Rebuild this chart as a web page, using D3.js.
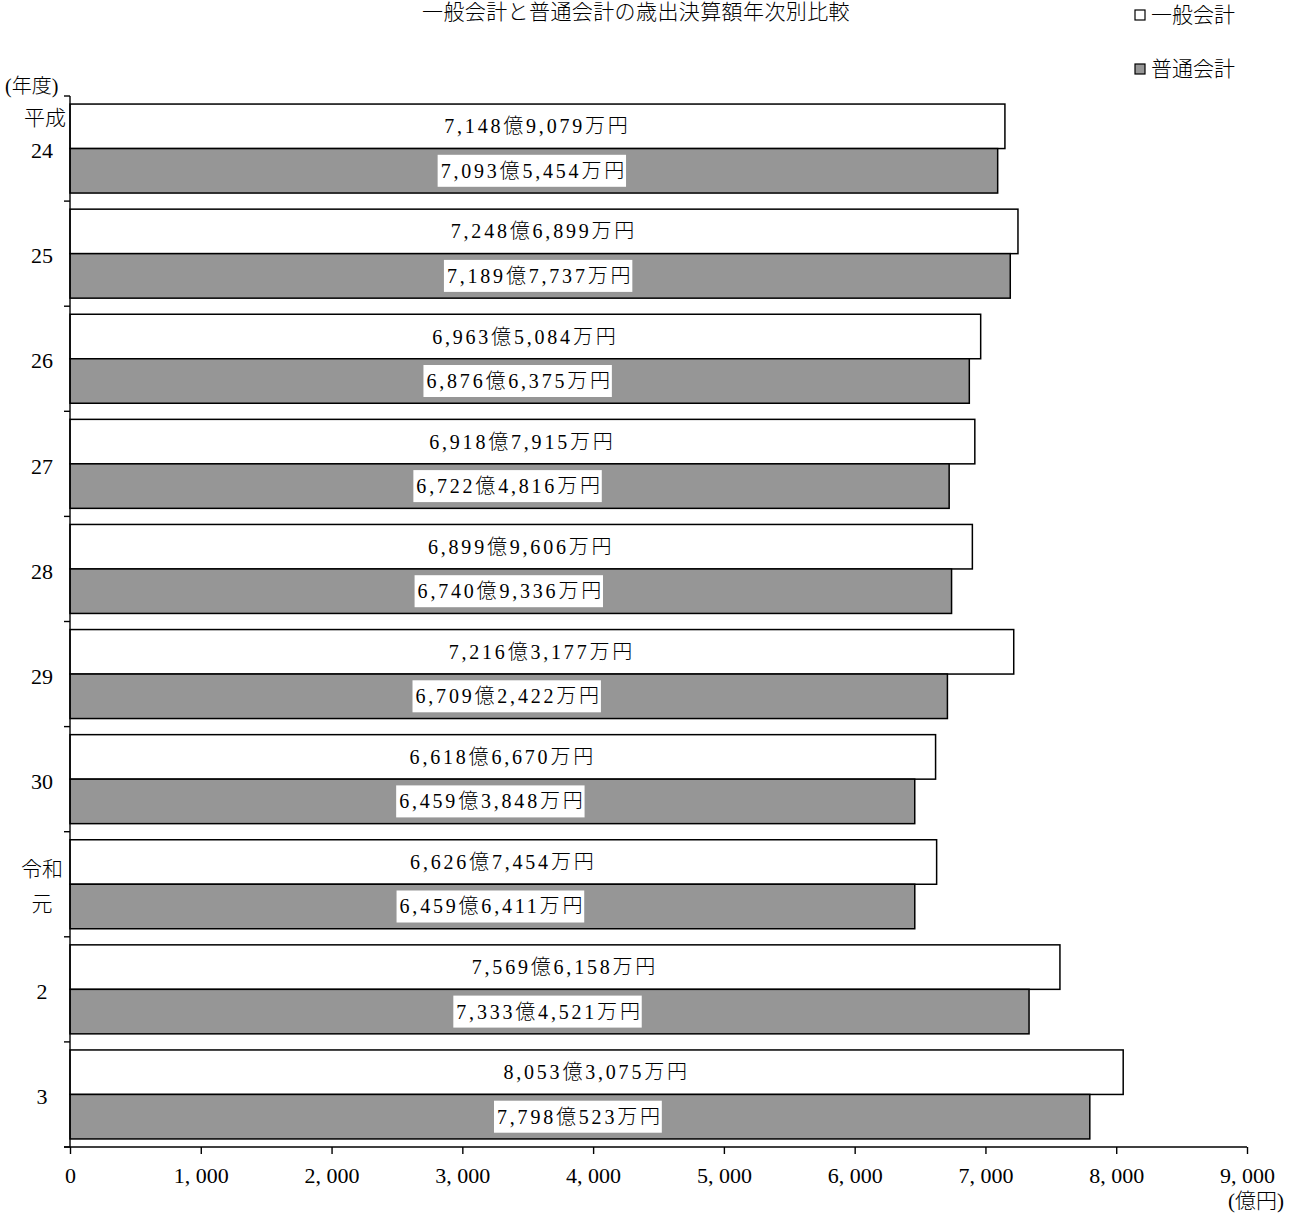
<!DOCTYPE html>
<html><head><meta charset="utf-8">
<script src="https://cdn.jsdelivr.net/npm/d3@7"></script>
<style>
html,body{margin:0;padding:0;background:#fff;}
svg{display:block;}
text{font-family:"Liberation Serif","Noto Sans CJK JP",serif;font-weight:300;fill:#000;}
</style></head>
<body>
<script>
// 年度ラベル(元号と年)
const eras = ["平成", "", "", "", "", "", "", "令和", "", ""];
const years = ["24", "25", "26", "27", "28", "29", "30", "元", "2", "3"];
// 歳出決算額(万円)
const generalAccount = [71489079, 72486899, 69635084, 69187915, 68999606, 72163177, 66186670, 66267454, 75696158, 80533075];
const ordinaryAccount = [70935454, 71897737, 68766375, 67224816, 67409336, 67092422, 64593848, 64596411, 73334521, 77980523];
const seriesNames = ["一般会計", "普通会計"];
const xTicks = [0, 1000, 2000, 3000, 4000, 5000, 6000, 7000, 8000, 9000];
const titleText = "一般会計と普通会計の歳出決算額年次別比較";

const W = 1290, H = 1216;
const svg = d3.select("body").append("svg").attr("width", W).attr("height", H);

const x = d3.scaleLinear().domain([0, 9000]).range([70, 1247]);
const y = d3.scaleBand().domain(years).range([96, 1147]).padding(0);
const sub = d3.scaleBand().domain(seriesNames).range([0, y.bandwidth()]).paddingInner(0).paddingOuter(0.181);
const fills = {"一般会計": "#ffffff", "普通会計": "#969696"};

const fmtComma = d3.format(",");
const labelOf = v => {
  const oku = Math.floor(v / 10000), man = v % 10000;
  return fmtComma(oku) + "億" + fmtComma(man) + "万円";
};

const rows = years.map((yr, i) => ({yr, era: eras[i], vals: [generalAccount[i], ordinaryAccount[i]]}));

// タイトル
svg.append("text").attr("x", 636).attr("y", 19).attr("text-anchor", "middle")
  .style("font-size", "21px").style("letter-spacing", "0.4px").text(titleText);

// 凡例
const legend = svg.append("g");
seriesNames.forEach((name, i) => {
  const ly = 15 + i * 54;
  legend.append("rect").attr("x", 1135).attr("y", ly - 5).attr("width", 10).attr("height", 10)
    .attr("fill", fills[name]).attr("stroke", "#000").attr("stroke-width", 1.2);
  legend.append("text").attr("x", 1151).attr("y", ly).attr("dy", "0.35em")
    .style("font-size", "21px").text(name);
});

// 棒
const g = svg.append("g");
rows.forEach(r => {
  seriesNames.forEach((name, j) => {
    const v = r.vals[j] / 10000;
    const by = y(r.yr) + sub(name);
    g.append("rect").attr("x", x(0)).attr("y", by)
      .attr("width", x(v) - x(0)).attr("height", sub.bandwidth())
      .attr("fill", fills[name]).attr("stroke", "#000").attr("stroke-width", 1.5);
  });
});

// 値ラベル
rows.forEach(r => {
  seriesNames.forEach((name, j) => {
    const v = r.vals[j] / 10000;
    const cx = (x(0) + x(v)) / 2;
    const cy = y(r.yr) + sub(name) + sub.bandwidth() / 2;
    const lg = g.append("g");
    const bg = lg.append("rect").attr("fill", "#fff");
    const t = lg.append("text").attr("x", cx).attr("y", cy).attr("dy", "0.35em")
      .attr("text-anchor", "middle").style("font-size", "20px").style("letter-spacing", "2.8px")
      .text(labelOf(r.vals[j]));
    const bb = t.node().getBBox();
    bg.attr("x", bb.x - 3).attr("y", cy - 16).attr("width", bb.width + 2).attr("height", 32);
  });
});

// 縦軸
const axisG = svg.append("g").attr("stroke", "#000").attr("stroke-width", 1.4);
axisG.append("line").attr("x1", x(0)).attr("x2", x(0)).attr("y1", y.range()[0]).attr("y2", y.range()[1]);
const bounds = years.map(yr => y(yr)).concat([y.range()[1]]);
bounds.forEach(b => {
  axisG.append("line").attr("x1", x(0) - 6).attr("x2", x(0)).attr("y1", b).attr("y2", b);
});

// 年度ラベル
svg.append("text").attr("x", 5).attr("y", 86).attr("dy", "0.35em").style("font-size", "20px").text("(年度)");
rows.forEach(r => {
  const c = y(r.yr) + y.bandwidth() / 2;
  const lx = 42;
  if (r.era && r.yr === "元") {
    svg.append("text").attr("x", lx).attr("y", c - 16).attr("dy", "0.35em").attr("text-anchor", "middle")
      .style("font-size", "21px").text(r.era);
    svg.append("text").attr("x", lx).attr("y", c + 19).attr("dy", "0.35em").attr("text-anchor", "middle")
      .style("font-size", "21px").text(r.yr);
  } else {
    if (r.era) {
      svg.append("text").attr("x", 45).attr("y", c - 31).attr("dy", "0.35em").attr("text-anchor", "middle")
        .style("font-size", "21px").text(r.era);
    }
    svg.append("text").attr("x", lx).attr("y", c + 2).attr("dy", "0.35em").attr("text-anchor", "middle")
      .style("font-size", "22px").text(r.yr);
  }
});

// 横軸
const xAxis = d3.axisBottom(x).tickValues(xTicks).tickSize(7).tickPadding(13)
  .tickFormat(d => d3.format(",")(d).replace(",", ", "));
const xg = svg.append("g").attr("transform", `translate(0,${y.range()[1]})`).call(xAxis);
xg.select(".domain").attr("stroke", "#000").attr("stroke-width", 1.4).attr("d", `M${x(0) - 6},0H${x(9000)}`);
xg.selectAll(".tick line").attr("stroke", "#000").attr("stroke-width", 1.4);
xg.selectAll(".tick text").style("font-family", "'Liberation Serif','Noto Sans CJK JP',serif")
  .style("font-size", "22px").attr("fill", "#000");
svg.append("text").attr("x", 1284).attr("y", 1201).attr("dy", "0.35em").attr("text-anchor", "end")
  .style("font-size", "21px").text("(億円)");
</script>
</body></html>
